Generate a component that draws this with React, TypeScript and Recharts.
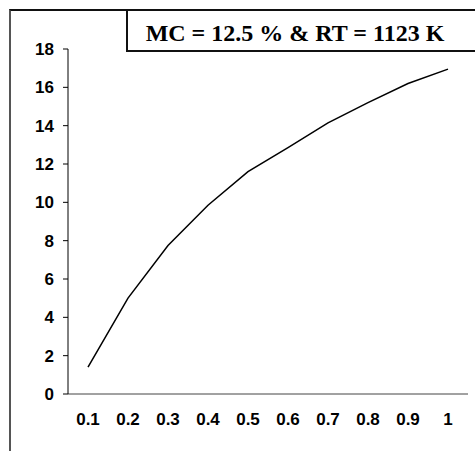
import React from "react";
import { LineChart, Line, XAxis, YAxis } from "recharts";

const categories = ["0.1", "0.2", "0.3", "0.4", "0.5", "0.6", "0.7", "0.8", "0.9", "1"];
const values = [1.4, 5.0, 7.75, 9.85, 11.6, 12.85, 14.15, 15.2, 16.2, 16.95];
const yTicks = [0, 2, 4, 6, 8, 10, 12, 14, 16, 18];
const title = "MC = 12.5 % & RT = 1123 K";

const data = categories.map((c, i) => ({ x: c, y: values[i] }));

const FONT = "Arial, 'Liberation Sans', sans-serif";

const XTick = (props: any) => {
  const { x, y, payload } = props;
  return (
    <text x={x} y={y} dy="0.71em" textAnchor="middle" fontFamily={FONT} fontWeight={700} fontSize={17} fill="#000">
      {payload.value}
    </text>
  );
};

const YTick = (props: any) => {
  const { x, y, payload } = props;
  return (
    <text x={x} y={y} dy="0.355em" textAnchor="end" fontFamily={FONT} fontWeight={700} fontSize={17} fill="#000">
      {payload.value}
    </text>
  );
};

export default function App() {
  return (
    <div style={{ position: "absolute", left: 0, top: 0, width: 475, height: 451, background: "#fff", overflow: "hidden" }}>
      <div style={{ position: "absolute", left: 9, top: 9, width: 480, height: 460, borderLeft: "2px solid #555", borderTop: "2px solid #111", boxSizing: "border-box" }} />
      <div style={{ position: "absolute", left: 0, top: 0 }}>
        <LineChart width={475} height={451} data={data} margin={{ top: 49, right: 7, bottom: 0, left: 10 }}>
          <XAxis
            dataKey="x"
            height={57}
            padding={{ left: 20, right: 20 }}
            tickLine={false}
            tickSize={0}
            tickMargin={19}
            axisLine={{ stroke: "#444", strokeWidth: 1 }}
            tick={<XTick />}
            interval={0}
          />
          <YAxis
            width={58}
            domain={[0, 18]}
            ticks={yTicks}
            tickSize={5}
            tickMargin={9}
            tickLine={{ stroke: "#000" }}
            axisLine={{ stroke: "#000", strokeWidth: 1 }}
            tick={<YTick />}
            interval={0}
          />
          <Line type="linear" dataKey="y" stroke="#000" strokeWidth={1.5} dot={false} isAnimationActive={false} />
        </LineChart>
      </div>
      <div
        style={{
          position: "absolute",
          left: 126,
          top: 9,
          width: 400,
          height: 43,
          border: "2px solid #111",
          boxSizing: "border-box",
          background: "#fff",
        }}
      >
        <div
          style={{
            position: "absolute",
            left: 0,
            width: 334,
            top: 3,
            height: 39,
            lineHeight: "39px",
            textAlign: "center",
            fontFamily: "'Times New Roman', 'Liberation Serif', serif",
            fontWeight: 700,
            fontSize: 24,
            color: "#000",
            whiteSpace: "nowrap",
          }}
        >
          {title}
        </div>
      </div>
    </div>
  );
}
